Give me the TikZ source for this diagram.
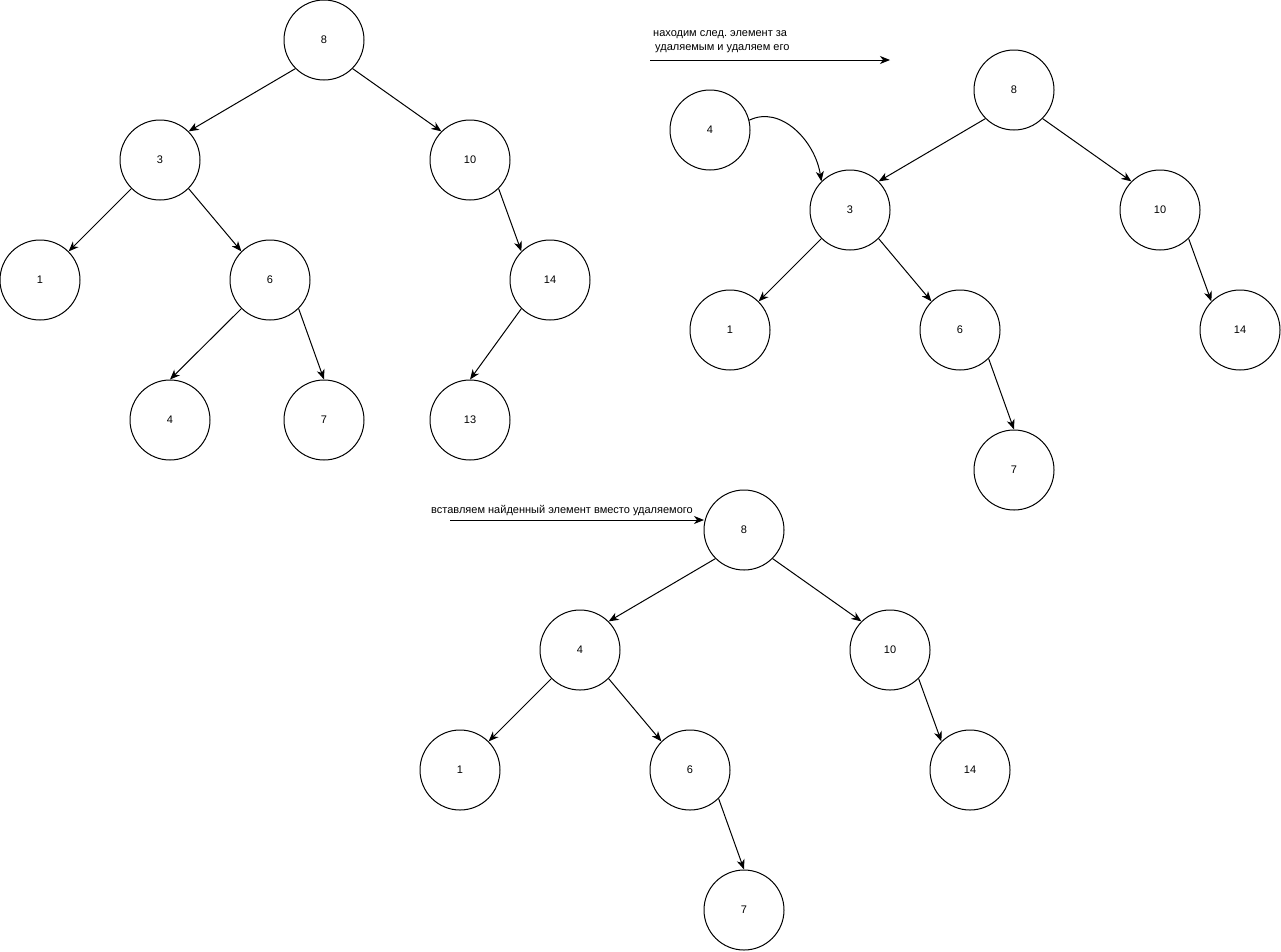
\documentclass[tikz,border=0pt]{standalone}
\usepackage{fontspec}
\setmainfont{Liberation Sans}
\usetikzlibrary{arrows.meta}
\frenchspacing
\begin{document}
\begin{tikzpicture}[x=1pt,y=-1pt,
  vtx/.style={circle,draw,line width=1pt,minimum size=80pt,inner sep=0pt,font=\fontsize{11}{13}\selectfont},
  edge/.style={line width=1pt,-{Stealth[length=10pt,width=8pt,inset=3pt]}},
  lbl/.style={font=\fontsize{11}{14}\selectfont,inner sep=0pt,align=left}]
\useasboundingbox (0,0) rectangle (1281,951);
% tree 1
\node[vtx] (a8) at (324,40) {8};
\node[vtx] (a3) at (160,160) {3};
\node[vtx] (a10) at (470,160) {10};
\node[vtx] (a1) at (40,280) {1};
\node[vtx] (a6) at (270,280) {6};
\node[vtx] (a14) at (550,280) {14};
\node[vtx] (a4) at (170,420) {4};
\node[vtx] (a7) at (324,420) {7};
\node[vtx] (a13) at (470,420) {13};
\draw[edge] (a8.south west) -- (a3.north east);
\draw[edge] (a8.south east) -- (a10.north west);
\draw[edge] (a3.south west) -- (a1.north east);
\draw[edge] (a3.south east) -- (a6.north west);
\draw[edge] (a10.south east) -- (a14.north west);
\draw[edge] (a6.south west) -- (a4.north);
\draw[edge] (a6.south east) -- (a7.north);
\draw[edge] (a14.south west) -- (a13.north);
% arrow 1
\coordinate (s1) at (650,60);
\coordinate (e1) at (890,60);
\draw[edge] (s1) -- (e1);
\node[lbl,anchor=south west] (l1) at (653,53) {находим след. элемент за\\\hspace*{2pt}удаляемым и удаляем его};
% tree 2
\node[vtx] (b8) at (1014,90) {8};
\node[vtx] (b4) at (710,130) {4};
\node[vtx] (b3) at (850,210) {3};
\node[vtx] (b10) at (1160,210) {10};
\node[vtx] (b1) at (730,330) {1};
\node[vtx] (b6) at (960,330) {6};
\node[vtx] (b14) at (1240,330) {14};
\node[vtx] (b7) at (1014,470) {7};
\draw[edge] (b8.south west) -- (b3.north east);
\draw[edge] (b8.south east) -- (b10.north west);
\draw[edge] (b3.south west) -- (b1.north east);
\draw[edge] (b3.south east) -- (b6.north west);
\draw[edge] (b10.south east) -- (b14.north west);
\draw[edge] (b6.south east) -- (b7.north);
\draw[edge] (b4.14) .. controls (780,105) and (815,140) .. (b3.north west);
% arrow 2
\coordinate (s2) at (450,520);
\coordinate (e2) at (704,520);
\draw[edge] (s2) -- (e2);
\node[lbl,anchor=center] (l2) at (562,511) {вставляем найденный элемент вместо удаляемого};
% tree 3
\node[vtx] (c8) at (744,530) {8};
\node[vtx] (c4) at (580,650) {4};
\node[vtx] (c10) at (890,650) {10};
\node[vtx] (c1) at (460,770) {1};
\node[vtx] (c6) at (690,770) {6};
\node[vtx] (c14) at (970,770) {14};
\node[vtx] (c7) at (744,910) {7};
\draw[edge] (c8.south west) -- (c4.north east);
\draw[edge] (c8.south east) -- (c10.north west);
\draw[edge] (c4.south west) -- (c1.north east);
\draw[edge] (c4.south east) -- (c6.north west);
\draw[edge] (c10.south east) -- (c14.north west);
\draw[edge] (c6.south east) -- (c7.north);
\end{tikzpicture}
\end{document}
